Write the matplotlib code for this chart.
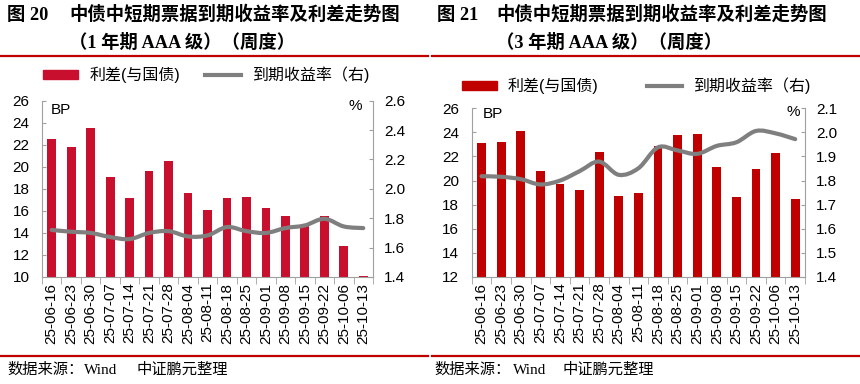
import matplotlib
matplotlib.use("Agg")
import matplotlib.pyplot as plt
from matplotlib.path import Path
from matplotlib.patches import PathPatch, Patch
from matplotlib.lines import Line2D
from matplotlib.ticker import FixedLocator, FormatStrFormatter
import numpy as np

# weekly dates shared by both charts
dates = ["25-06-16", "25-06-23", "25-06-30", "25-07-07", "25-07-14", "25-07-21",
         "25-07-28", "25-08-04", "25-08-11", "25-08-18", "25-08-25", "25-09-01",
         "25-09-08", "25-09-15", "25-09-22", "25-10-06", "25-10-13"]

# 1-year AAA: spread (BP) and yield (%)
spread_1y = [22.5, 21.8, 23.5, 19.1, 17.2, 19.6, 20.5, 17.6, 16.1, 17.2,
             17.3, 16.3, 15.5, 14.6, 15.5, 12.8, 10.05]
yield_1y = [1.72, 1.708, 1.70, 1.672, 1.658, 1.70, 1.712, 1.676, 1.683, 1.74,
            1.712, 1.70, 1.733, 1.751, 1.796, 1.744, 1.733]

# 3-year AAA: spread (BP) and yield (%)
spread_3y = [23.1, 23.2, 24.1, 20.8, 19.7, 19.2, 22.4, 18.7, 19.0, 22.9,
             23.8, 23.9, 21.1, 18.6, 21.0, 22.3, 18.5]
yield_3y = [1.818, 1.816, 1.806, 1.784, 1.80, 1.839, 1.879, 1.824, 1.851, 1.938,
            1.925, 1.911, 1.944, 1.959, 2.006, 1.996, 1.972]

W, H = 860, 384
SANS = ["Liberation Sans", "Noto Sans CJK SC"]
SERIF = ["Liberation Serif", "Noto Sans CJK SC"]
plt.rcParams["font.family"] = SANS

fig = plt.figure(figsize=(W / 100, H / 100), dpi=100)


def fx(x):
    return x / W


def fy(y):
    return 1 - y / H


def smooth_path(xs, ys):
    # Catmull-Rom style cubic bezier through the data points (like Excel smoothed line)
    pts = np.column_stack([xs, ys]).astype(float)
    n = len(pts)
    verts = [pts[0]]
    codes = [Path.MOVETO]
    for i in range(n - 1):
        p0 = pts[i - 1] if i > 0 else pts[i]
        p1 = pts[i]
        p2 = pts[i + 1]
        p3 = pts[i + 2] if i + 2 < n else pts[i + 1]
        c1 = p1 + (p2 - p0) / 6
        c2 = p2 - (p3 - p1) / 6
        verts += [c1, c2, p2]
        codes += [Path.CURVE4] * 3
    return Path(verts, codes)


def panel(box, spread, yld, ylim1, yticks1, ylim2, yticks2, bar_color,
          leg_center, colspace, bp_xy, pct_xy):
    l, t, r, b = box
    ax = fig.add_axes([fx(l), fy(b), fx(r - l), (b - t) / H])
    x = np.arange(len(dates))
    ax.bar(x, spread, width=0.45, color=bar_color, zorder=2)
    ax.set_xlim(-0.5, len(dates) - 0.5)
    ax.set_ylim(*ylim1)
    ax.set_yticks(yticks1)
    ax.set_xticks(x)
    ax.set_xticklabels(dates, rotation=90, fontsize=11)
    ax.xaxis.set_minor_locator(FixedLocator(np.arange(-0.5, len(dates), 1)))
    ax.tick_params(axis="x", which="major", length=0, pad=4)
    ax.tick_params(axis="x", which="minor", length=5, color="#a0a0a0", direction="out")
    ax.tick_params(axis="y", direction="in", length=3, color="#a0a0a0", labelsize=11, pad=9)
    for s in ["top", "right"]:
        ax.spines[s].set_visible(False)
    for s in ["left", "bottom"]:
        ax.spines[s].set_color("#a0a0a0")

    ax2 = ax.twinx()
    ax2.add_patch(PathPatch(smooth_path(x, yld), fill=False, edgecolor="#7f7f7f",
                            lw=3, capstyle="round", zorder=3))
    ax2.set_ylim(*ylim2)
    ax2.set_yticks(yticks2)
    ax2.yaxis.set_major_formatter(FormatStrFormatter("%.1f"))
    ax2.tick_params(axis="y", direction="in", length=3, color="#a0a0a0", labelsize=11, pad=8)
    for s in ["top", "left", "bottom"]:
        ax2.spines[s].set_visible(False)
    ax2.spines["right"].set_color("#a0a0a0")

    fig.text(fx(bp_xy[0]), fy(bp_xy[1]), "BP", fontsize=11, va="center", ha="left")
    fig.text(fx(pct_xy[0]), fy(pct_xy[1]), "%", fontsize=11, va="center", ha="right")

    handles = [Patch(color=bar_color), Line2D([], [], color="#7f7f7f", lw=3)]
    ax.legend(handles, ["利差(与国债)", "到期收益率（右)"], loc="center",
              bbox_to_anchor=(fx(leg_center[0]), fy(leg_center[1])),
              bbox_transform=fig.transFigure, ncol=2, frameon=False, fontsize=11.5,
              handlelength=2.2, handleheight=0.5, handletextpad=0.7,
              columnspacing=colspace, borderpad=0)
    return ax


panel((42, 100.7, 373, 277), spread_1y, yield_1y, (10, 26), range(10, 27, 2),
      (1.4, 2.6), np.arange(1.4, 2.61, 0.2), "#c8102e", (206, 75), 1.6,
      (51, 110), (362, 106))
panel((471.7, 108.3, 805, 277), spread_3y, yield_3y, (12, 26), range(12, 27, 2),
      (1.4, 2.1), np.arange(1.4, 2.11, 0.1), "#c00000", (636, 86), 3.0,
      (483, 114), (800, 112))

# titles
titles = [("图 20", "中债中短期票据到期收益率及利差走势图", "（1 年期 AAA 级）（周度）", 7, 69),
          ("图 21", "中债中短期票据到期收益率及利差走势图", "（3 年期 AAA 级）（周度）", 437, 496)]
for fig_no, line1, line2, x0, x1 in titles:
    fig.text(fx(x0), fy(15), fig_no, family=SERIF, fontweight="bold", fontsize=13.2, va="center")
    fig.text(fx(x1), fy(15), line1, family=SERIF, fontweight="bold", fontsize=13.2, va="center")
    fig.text(fx(x1), fy(43), line2, family=SERIF, fontweight="bold", fontsize=13.2, va="center")

# red rules
for x0, x1 in [(0, 428), (432, 860)]:
    for y in (56, 356):
        fig.add_artist(Line2D([fx(x0), fx(x1)], [fy(y), fy(y)], color="#c00000", lw=1.6))

# source notes
for x0, xw, xz in [(7, 84, 137), (434, 513, 563)]:
    fig.text(fx(x0), fy(370), "数据来源：", family=SANS, fontsize=11, va="center")
    fig.text(fx(xw), fy(370), "Wind", family=SERIF, fontsize=11, va="center")
    fig.text(fx(xz), fy(370), "中证鹏元整理", family=SANS, fontsize=11, va="center")

fig.savefig("out.png", dpi=100)
